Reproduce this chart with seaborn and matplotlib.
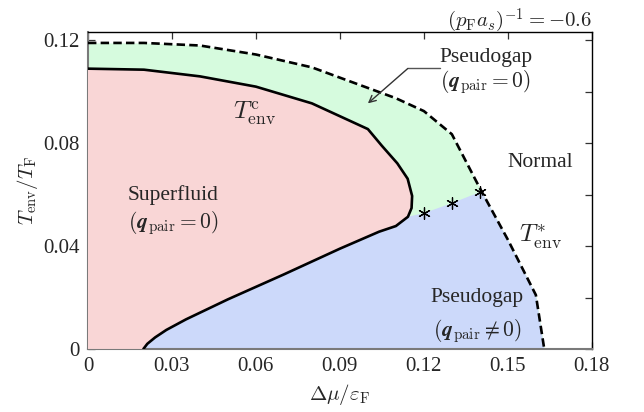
import matplotlib
matplotlib.use("Agg")
import matplotlib.pyplot as plt
import seaborn as sns
import numpy as np
import pandas as pd

# Pseudogap temperature T*_env (dashed boundary to the normal phase)
tstar_x = [0.0, 0.02, 0.04, 0.06, 0.08, 0.10, 0.11, 0.12, 0.13, 0.14, 0.15, 0.16, 0.163]
tstar_y = [0.119, 0.119, 0.118, 0.1145, 0.1095, 0.1015, 0.0975, 0.0925, 0.0835, 0.0625, 0.0425, 0.021, 0.0]

# Superfluid transition T^c_env: upper branch (from the axis round the nose)
tc_upper_x = [0.0, 0.02, 0.04, 0.06, 0.08, 0.10, 0.105, 0.1105, 0.1142, 0.1158, 0.1156, 0.1143]
tc_upper_y = [0.109, 0.1086, 0.106, 0.102, 0.0955, 0.0855, 0.0790, 0.0722, 0.0662, 0.0595, 0.0548, 0.0514]
# ... and lower branch (from the nose down to the Delta-mu axis)
tc_lower_x = [0.1143, 0.110, 0.104, 0.09, 0.07, 0.05, 0.035, 0.028, 0.024, 0.0212, 0.0198]
tc_lower_y = [0.0514, 0.0478, 0.0456, 0.039, 0.029, 0.0193, 0.0115, 0.0074, 0.0045, 0.0020, 0.0]

# Points separating q_pair = 0 and q_pair != 0 pseudogap regions
star_x = [0.12, 0.13, 0.14]
star_y = [0.0528, 0.0567, 0.061]

x_ticks = [0.0, 0.03, 0.06, 0.09, 0.12, 0.15, 0.18]
x_ticklabels = ["0", "0.03", "0.06", "0.09", "0.12", "0.15", "0.18"]
y_ticks = [0.0, 0.02, 0.04, 0.06, 0.08, 0.10, 0.12]
y_ticklabels = ["0", "", "0.04", "", "0.08", "", "0.12"]

PINK = "#f9d6d6"
GREEN = "#d6fbde"
BLUE = "#ccd9fa"

sns.set_theme(style="ticks")
plt.rcParams["font.family"] = ["Liberation Serif", "DejaVu Serif"]
plt.rcParams["mathtext.fontset"] = "cm"

fig = plt.figure(figsize=(6.44, 4.12), dpi=100)
ax = fig.add_axes([0.1366, 0.153, 0.919 - 0.1366, 0.922 - 0.153])

# --- filled phase regions ---
ax.fill_between(tstar_x, 0, tstar_y, color=GREEN, lw=0, zorder=1)

i14 = tstar_x.index(0.14)
blue_x = tc_upper_x[-1:] + star_x + tstar_x[i14:] + tc_lower_x[::-1]
blue_y = tc_upper_y[-1:] + star_y + tstar_y[i14:] + tc_lower_y[::-1]
ax.fill(blue_x, blue_y, color=BLUE, lw=0, zorder=2)

pink_x = [0.0] + tc_upper_x + tc_lower_x[1:]
pink_y = [0.0] + tc_upper_y + tc_lower_y[1:]
ax.fill(pink_x, pink_y, color=PINK, lw=0, zorder=3)

# --- boundary lines ---
tc_df = pd.DataFrame({"x": tc_upper_x + tc_lower_x[1:], "y": tc_upper_y + tc_lower_y[1:]})
sns.lineplot(data=tc_df, x="x", y="y", sort=False, estimator=None, color="black",
             lw=1.9, ax=ax, zorder=5)
ts_df = pd.DataFrame({"x": tstar_x, "y": tstar_y})
sns.lineplot(data=ts_df, x="x", y="y", sort=False, estimator=None, color="black",
             lw=1.9, ax=ax, zorder=5, linestyle=(0, (3.2, 1.6)))

sns.scatterplot(x=star_x, y=star_y, marker=(6, 2, 0), s=70, color="black",
                linewidth=0.9, ax=ax, zorder=6)

# --- axes styling ---
ax.set_xlim(0, 0.18)
ax.set_ylim(0, 0.1232)
ax.set_xticks(x_ticks)
ax.set_xticklabels(x_ticklabels)
ax.set_yticks(y_ticks)
ax.set_yticklabels(y_ticklabels)
ax.tick_params(direction="in", length=5, width=0.9, labelsize=15, top=True, right=True,
               color="#333333", pad=6)
for side in ("left", "bottom"):
    ax.spines[side].set_color("#7a7a7a")
    ax.spines[side].set_linewidth(1.5)
for side in ("top", "right"):
    ax.spines[side].set_color("black")
    ax.spines[side].set_linewidth(1.0)

ax.set_xlabel(r"$\Delta\mu/\varepsilon_{\rm F}$", fontsize=15, labelpad=4)
ax.set_ylabel(r"$T_{\rm env}/T_{\rm F}$", fontsize=15, labelpad=2)

ax.text(1.0, 1.016, r"$(p_{\rm F}a_s)^{-1}=-0.6$", transform=ax.transAxes,
        ha="right", va="baseline", fontsize=15)

# --- region labels ---
txt = dict(fontsize=15.5, ha="center", va="center", zorder=8)
ax.text(0.0304, 0.0598, "Superfluid", **txt)
ax.text(0.0304, 0.0489, r"$(\mathbfit{q}_{\rm pair}=0)$", **txt)
ax.text(0.1421, 0.1135, "Pseudogap", **txt)
ax.text(0.1421, 0.1037, r"$(\mathbfit{q}_{\rm pair}=0)$", **txt)
ax.text(0.139, 0.0202, "Pseudogap", **txt)
ax.text(0.139, 0.0068, r"$(\mathbfit{q}_{\rm pair}\neq 0)$", **txt)
ax.text(0.1614, 0.0726, "Normal", **txt)
ax.text(0.0596, 0.0915, r"$T_{\rm env}^{\rm c}$", fontsize=18, ha="center", va="center", zorder=8)
ax.text(0.1618, 0.0437, r"$T_{\rm env}^{*}$", fontsize=18, ha="center", va="center", zorder=8)

# leader line from the upper pseudogap label
ax.plot([0.1257, 0.1143], [0.1091, 0.1091], color="#555555", lw=1.0, zorder=7)
ax.annotate("", xy=(0.1000, 0.0955), xytext=(0.1143, 0.1091),
            arrowprops=dict(arrowstyle="->", color="#333333", lw=1.0,
                            shrinkA=0, shrinkB=0), zorder=7)

fig.savefig("out.png", dpi=100)
